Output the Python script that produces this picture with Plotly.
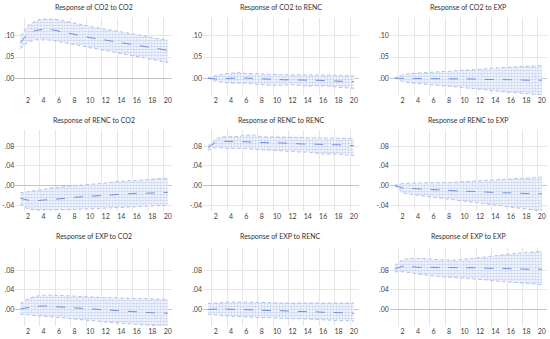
import plotly.graph_objects as go

periods = list(range(1, 21))
x_tick_vals = [2, 4, 6, 8, 10, 12, 14, 16, 18, 20]
x_grid_vals = [1.5, 3.5, 5.5, 7.5, 9.5, 11.5, 13.5, 15.5, 17.5, 19.5]

titles = [
    "Response of CO2 to CO2", "Response of CO2 to RENC", "Response of CO2 to EXP",
    "Response of RENC to CO2", "Response of RENC to RENC", "Response of RENC to EXP",
    "Response of EXP to CO2", "Response of EXP to RENC", "Response of EXP to EXP",
]

# CO2 to CO2
co2_co2_mean = [0.084, 0.106, 0.113, 0.116, 0.115, 0.111, 0.107, 0.103, 0.099, 0.096,
                0.093, 0.090, 0.087, 0.084, 0.081, 0.078, 0.075, 0.072, 0.069, 0.066]
co2_co2_up = [0.100, 0.125, 0.136, 0.140, 0.140, 0.138, 0.134, 0.130, 0.126, 0.123,
              0.119, 0.116, 0.113, 0.110, 0.106, 0.103, 0.100, 0.096, 0.093, 0.090]
co2_co2_lo = [0.070, 0.086, 0.091, 0.091, 0.090, 0.086, 0.083, 0.079, 0.076, 0.072,
              0.069, 0.066, 0.062, 0.058, 0.055, 0.052, 0.048, 0.044, 0.041, 0.037]
# CO2 to RENC
co2_renc_mean = [0.000, -0.002, -0.001, 0.000, 0.000, 0.000, -0.001, -0.002, -0.003, -0.003,
                 -0.004, -0.004, -0.005, -0.005, -0.005, -0.006, -0.006, -0.007, -0.008, -0.008]
co2_renc_up = [0.000, 0.006, 0.010, 0.012, 0.013, 0.011, 0.011, 0.010, 0.009, 0.008,
               0.008, 0.008, 0.008, 0.008, 0.008, 0.008, 0.008, 0.007, 0.006, 0.005]
co2_renc_lo = [0.000, -0.008, -0.010, -0.012, -0.012, -0.012, -0.014, -0.016, -0.017, -0.017,
               -0.016, -0.016, -0.017, -0.019, -0.018, -0.018, -0.019, -0.022, -0.023, -0.024]
# CO2 to EXP
co2_exp_mean = [0.000, -0.001, -0.001, -0.001, -0.001, -0.001, -0.001, -0.001, -0.002, -0.002,
                -0.002, -0.003, -0.003, -0.003, -0.004, -0.004, -0.004, -0.005, -0.005, -0.005]
co2_exp_up = [0.000, 0.008, 0.011, 0.012, 0.013, 0.015, 0.016, 0.016, 0.017, 0.019,
              0.020, 0.021, 0.023, 0.024, 0.026, 0.027, 0.028, 0.029, 0.030, 0.030]
co2_exp_lo = [0.000, -0.008, -0.011, -0.013, -0.015, -0.016, -0.018, -0.019, -0.021, -0.022,
              -0.024, -0.026, -0.028, -0.030, -0.032, -0.034, -0.035, -0.037, -0.039, -0.040]
# RENC to CO2
renc_co2_mean = [-0.026, -0.030, -0.031, -0.030, -0.029, -0.027, -0.026, -0.024, -0.023, -0.021,
                 -0.021, -0.020, -0.019, -0.018, -0.017, -0.016, -0.016, -0.015, -0.015, -0.014]
renc_co2_up = [-0.015, -0.013, -0.010, -0.008, -0.005, -0.003, -0.001, 0.000, 0.001, 0.002,
               0.003, 0.005, 0.007, 0.009, 0.010, 0.010, 0.012, 0.013, 0.014, 0.015]
renc_co2_lo = [-0.038, -0.048, -0.050, -0.050, -0.050, -0.050, -0.049, -0.049, -0.048, -0.048,
               -0.047, -0.046, -0.046, -0.045, -0.044, -0.043, -0.043, -0.042, -0.041, -0.041]
# RENC to RENC
renc_renc_mean = [0.077, 0.088, 0.090, 0.090, 0.089, 0.089, 0.088, 0.087, 0.087, 0.087,
                  0.086, 0.085, 0.085, 0.084, 0.084, 0.083, 0.083, 0.083, 0.082, 0.081]
renc_renc_up = [0.080, 0.095, 0.099, 0.099, 0.100, 0.103, 0.103, 0.099, 0.099, 0.099,
                0.099, 0.098, 0.098, 0.097, 0.097, 0.097, 0.096, 0.096, 0.096, 0.096]
renc_renc_lo = [0.072, 0.077, 0.076, 0.075, 0.075, 0.075, 0.074, 0.073, 0.072, 0.071,
                0.070, 0.068, 0.068, 0.068, 0.066, 0.064, 0.064, 0.064, 0.062, 0.061]
# RENC to EXP
renc_exp_mean = [0.000, -0.005, -0.006, -0.007, -0.008, -0.009, -0.010, -0.010, -0.011, -0.012,
                 -0.012, -0.013, -0.014, -0.014, -0.015, -0.015, -0.016, -0.016, -0.017, -0.017]
renc_exp_up = [0.000, 0.004, 0.005, 0.005, 0.005, 0.005, 0.006, 0.006, 0.007, 0.008,
               0.009, 0.010, 0.011, 0.012, 0.012, 0.013, 0.014, 0.015, 0.016, 0.017]
renc_exp_lo = [0.000, -0.015, -0.018, -0.020, -0.022, -0.024, -0.026, -0.028, -0.030, -0.032,
               -0.034, -0.036, -0.038, -0.040, -0.042, -0.044, -0.046, -0.048, -0.050, -0.052]
# EXP to CO2
exp_co2_mean = [0.001, 0.004, 0.006, 0.007, 0.006, 0.005, 0.004, 0.003, 0.001, 0.000,
                -0.001, -0.002, -0.002, -0.003, -0.004, -0.005, -0.006, -0.007, -0.007, -0.008]
exp_co2_up = [0.012, 0.022, 0.027, 0.029, 0.029, 0.029, 0.028, 0.027, 0.026, 0.025,
              0.025, 0.024, 0.024, 0.023, 0.023, 0.022, 0.022, 0.021, 0.021, 0.020]
exp_co2_lo = [-0.010, -0.012, -0.013, -0.014, -0.015, -0.016, -0.018, -0.020, -0.021, -0.022,
              -0.024, -0.026, -0.027, -0.028, -0.029, -0.030, -0.031, -0.032, -0.034, -0.035]
# EXP to RENC
exp_renc_mean = [0.000, 0.001, 0.001, 0.000, 0.000, -0.001, -0.001, -0.002, -0.002, -0.003,
                 -0.003, -0.004, -0.004, -0.005, -0.005, -0.006, -0.006, -0.007, -0.007, -0.008]
exp_renc_up = [0.012, 0.013, 0.015, 0.015, 0.015, 0.015, 0.015, 0.014, 0.014, 0.013,
               0.013, 0.013, 0.013, 0.013, 0.013, 0.013, 0.013, 0.013, 0.013, 0.013]
exp_renc_lo = [-0.010, -0.012, -0.013, -0.014, -0.015, -0.016, -0.016, -0.017, -0.017, -0.018,
               -0.018, -0.019, -0.019, -0.020, -0.021, -0.022, -0.022, -0.023, -0.023, -0.024]
# EXP to EXP
exp_exp_mean = [0.083, 0.088, 0.088, 0.086, 0.086, 0.086, 0.086, 0.086, 0.086, 0.086,
                0.085, 0.085, 0.084, 0.084, 0.083, 0.083, 0.083, 0.082, 0.082, 0.082]
exp_exp_up = [0.090, 0.102, 0.104, 0.104, 0.104, 0.102, 0.101, 0.101, 0.101, 0.102,
              0.104, 0.106, 0.108, 0.110, 0.112, 0.113, 0.115, 0.116, 0.118, 0.119]
exp_exp_lo = [0.077, 0.077, 0.075, 0.072, 0.070, 0.068, 0.067, 0.066, 0.065, 0.064,
              0.063, 0.062, 0.060, 0.058, 0.057, 0.056, 0.054, 0.053, 0.052, 0.050]

panels = [
    (co2_co2_mean, co2_co2_up, co2_co2_lo),
    (co2_renc_mean, co2_renc_up, co2_renc_lo),
    (co2_exp_mean, co2_exp_up, co2_exp_lo),
    (renc_co2_mean, renc_co2_up, renc_co2_lo),
    (renc_renc_mean, renc_renc_up, renc_renc_lo),
    (renc_exp_mean, renc_exp_up, renc_exp_lo),
    (exp_co2_mean, exp_co2_up, exp_co2_lo),
    (exp_renc_mean, exp_renc_up, exp_renc_lo),
    (exp_exp_mean, exp_exp_up, exp_exp_lo),
]

row1_tick_vals = [0.0, 0.05, 0.10]
row1_tick_text = [".00", ".05", ".10"]
row23_tick_vals = [-0.04, 0.0, 0.04, 0.08]
row23_tick_text = ["-.04", ".00", ".04", ".08"]

W, H = 550, 339
col_px = [(15.3, 172.4), (203.0, 358.5), (389.8, 546.5)]
row_px = [(18, 95), (130, 211), (248, 326)]
row_ranges = [(-0.040, 0.1425), (-0.052, 0.113), (-0.034, 0.1255)]
title_shift = [11, 10, 12]

FONT = "Lato"
BAND_LINE = "#adc0ea"
MEAN_LINE = "#7090d8"

fig = go.Figure()
layout = {}
annotations = []
for i, (mean, up, lo) in enumerate(panels):
    r, c = divmod(i, 3)
    n = i + 1
    xa = "x" if n == 1 else f"x{n}"
    ya = "y" if n == 1 else f"y{n}"
    fig.add_trace(go.Scatter(x=periods, y=up, mode="lines", xaxis=xa, yaxis=ya,
                             line=dict(color=BAND_LINE, width=1, dash="dot"),
                             showlegend=False, hoverinfo="skip"))
    fig.add_trace(go.Scatter(x=periods, y=lo, mode="lines", xaxis=xa, yaxis=ya,
                             fill="tonexty",
                             fillpattern=dict(shape=".", fgcolor="#8fa8e0", bgcolor="#f3f6fd",
                                              size=3, solidity=0.4),
                             line=dict(color=BAND_LINE, width=1, dash="dot"),
                             showlegend=False, hoverinfo="skip"))
    fig.add_trace(go.Scatter(x=periods, y=mean, mode="lines", xaxis=xa, yaxis=ya,
                             line=dict(color=MEAN_LINE, width=1, dash="dash"),
                             showlegend=False))
    x0, x1 = col_px[c]
    y0, y1 = row_px[r]
    if r == 0:
        tv, tt = row1_tick_vals, row1_tick_text
    else:
        tv, tt = row23_tick_vals, row23_tick_text
    xkey = "xaxis" if n == 1 else f"xaxis{n}"
    ykey = "yaxis" if n == 1 else f"yaxis{n}"
    layout[xkey] = dict(domain=[x0 / W, x1 / W], anchor=ya, range=[0.35, 20.6],
                        tickvals=x_tick_vals, ticktext=[str(v) for v in x_tick_vals],
                        showgrid=False, zeroline=False, showline=False, ticks="",
                        tickfont=dict(family=FONT, size=7, color="#404040"),
                        minor=dict(tickvals=x_grid_vals, showgrid=True,
                                   gridcolor="#e6e6e6", gridwidth=1, ticks=""))
    layout[ykey] = dict(domain=[1 - y1 / H, 1 - y0 / H], anchor=xa, range=list(row_ranges[r]),
                        tickvals=tv, ticktext=tt, showgrid=True, gridcolor="#e6e6e6",
                        gridwidth=1, zeroline=True, zerolinecolor="#c4c4c4", zerolinewidth=1,
                        showline=False, ticks="",
                        tickfont=dict(family=FONT, size=7, color="#404040"))
    annotations.append(dict(text=titles[i], xref=f"{xa} domain", yref=f"{ya} domain",
                            x=0.5, y=1, yanchor="middle", xanchor="center",
                            yshift=title_shift[r], showarrow=False,
                            font=dict(family=FONT, size=7, color="#333333")))

fig.update_layout(**layout)
fig.update_layout(width=W, height=H, margin=dict(l=0, r=0, t=0, b=0),
                  paper_bgcolor="white", plot_bgcolor="white",
                  annotations=annotations, showlegend=False)
fig.write_html("out.html", config={"displayModeBar": False},
               post_script="document.body.style.margin='0px';")
